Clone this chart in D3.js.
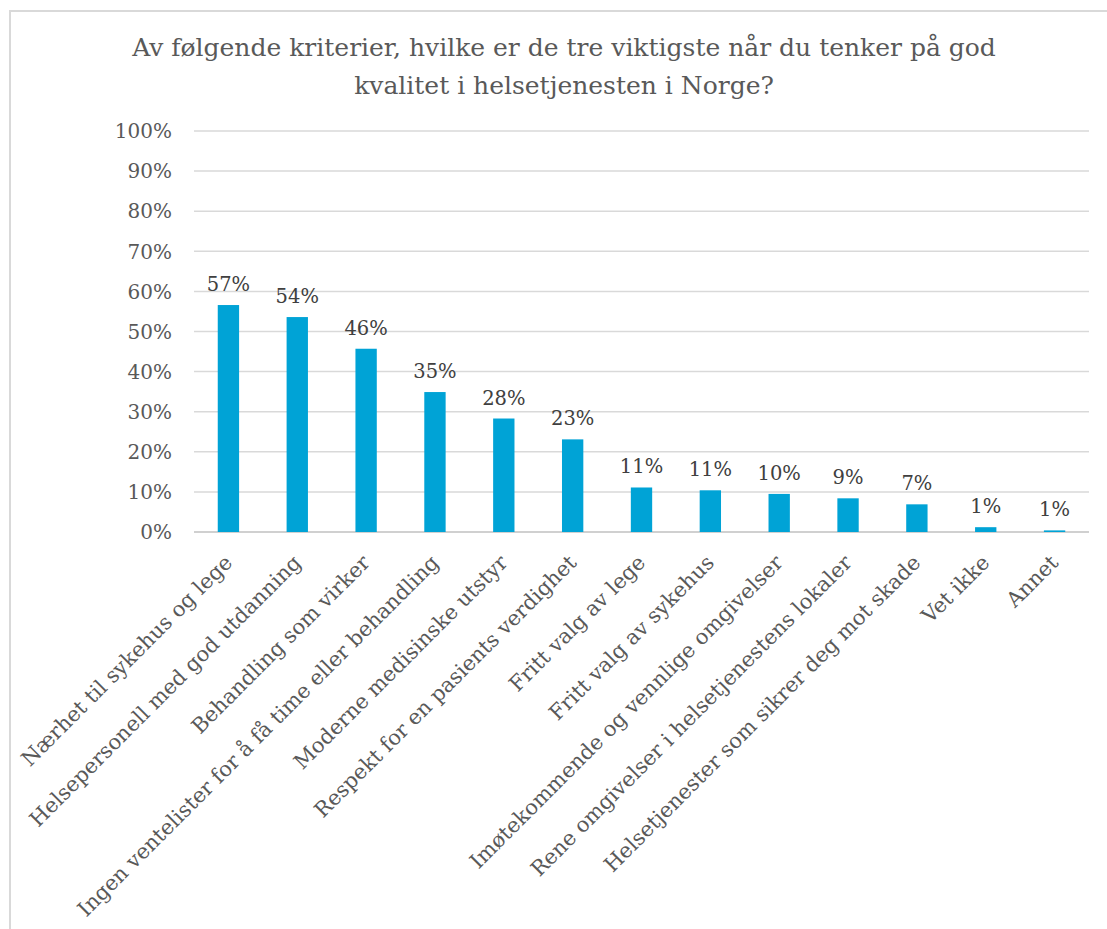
<!DOCTYPE html>
<html>
<head>
<meta charset="utf-8">
<script src="https://cdn.jsdelivr.net/npm/d3@7"></script>
<style>
  body { margin: 0; background: #fff; }
  svg text { font-family: "DejaVu Serif", Georgia, serif; }
</style>
</head>
<body>
<div id="chart"></div>
<script>
const categories = [
  'Nærhet til sykehus og lege',
  'Helsepersonell med god utdanning',
  'Behandling som virker',
  'Ingen ventelister for å få time eller behandling',
  'Moderne medisinske utstyr',
  'Respekt for en pasients verdighet',
  'Fritt valg av lege',
  'Fritt valg av sykehus',
  'Imøtekommende og vennlige omgivelser',
  'Rene omgivelser i helsetjenestens lokaler',
  'Helsetjenester som sikrer deg mot skade',
  'Vet ikke',
  'Annet'
];
const values = [56.6, 53.6, 45.7, 34.9, 28.3, 23.1, 11.1, 10.4, 9.5, 8.4, 6.9, 1.2, 0.4];
const valueLabels = ['57%', '54%', '46%', '35%', '28%', '23%', '11%', '11%', '10%', '9%', '7%', '1%', '1%'];
const yTicks = [0, 10, 20, 30, 40, 50, 60, 70, 80, 90, 100];
const titleLines = [
  'Av følgende kriterier, hvilke er de tre viktigste når du tenker på god',
  'kvalitet i helsetjenesten i Norge?'
];

const W = 1107, H = 929;
const m = { left: 194, right: 1089, top: 131, bottom: 532 };

const svg = d3.select('#chart').append('svg')
  .attr('width', W).attr('height', H);

// chart frame
svg.append('rect')
  .attr('x', 10).attr('y', 11)
  .attr('width', W + 20).attr('height', H + 20)
  .attr('fill', 'none')
  .attr('stroke', '#d9d9d9')
  .attr('stroke-width', 2);

const x = d3.scaleBand()
  .domain(categories)
  .range([m.left, m.right])
  .paddingInner(0.69)
  .paddingOuter(0.345);

const y = d3.scaleLinear().domain([0, 100]).range([m.bottom, m.top]);

// title
svg.append('text')
  .attr('text-anchor', 'middle')
  .attr('fill', '#595959')
  .attr('font-size', 25)
  .selectAll('tspan')
  .data(titleLines)
  .join('tspan')
  .attr('x', 564)
  .attr('y', (d, i) => 56 + i * 38)
  .text(d => d);

// gridlines
svg.append('g')
  .selectAll('line')
  .data(yTicks)
  .join('line')
  .attr('x1', m.left).attr('x2', m.right)
  .attr('y1', d => y(d)).attr('y2', d => y(d))
  .attr('stroke', d => d === 0 ? '#d0d0d0' : '#d9d9d9')
  .attr('stroke-width', d => d === 0 ? 2 : 1.5);

// y tick labels
svg.append('g')
  .selectAll('text')
  .data(yTicks)
  .join('text')
  .attr('x', 172)
  .attr('y', d => y(d))
  .attr('dy', '0.36em')
  .attr('text-anchor', 'end')
  .attr('font-size', 20)
  .attr('fill', '#595959')
  .text(d => d + '%');

// bars
svg.append('g')
  .selectAll('rect')
  .data(values)
  .join('rect')
  .attr('x', (d, i) => x(categories[i]))
  .attr('width', x.bandwidth())
  .attr('y', d => y(d))
  .attr('height', d => y(0) - y(d))
  .attr('fill', '#00a3d6');

// value labels
svg.append('g')
  .selectAll('text')
  .data(values)
  .join('text')
  .attr('x', (d, i) => x(categories[i]) + x.bandwidth() / 2)
  .attr('y', d => y(d) - 14)
  .attr('text-anchor', 'middle')
  .attr('font-size', 19.5)
  .attr('fill', '#404040')
  .text((d, i) => valueLabels[i]);

// category labels, rotated
svg.append('g')
  .selectAll('text')
  .data(categories)
  .join('text')
  .attr('transform', d => `translate(${x(d) + x.bandwidth() / 2 + 5},${m.bottom + 32}) rotate(-45)`)
  .attr('text-anchor', 'end')
  .attr('font-size', 21)
  .attr('fill', '#595959')
  .text(d => d);
</script>
</body>
</html>
